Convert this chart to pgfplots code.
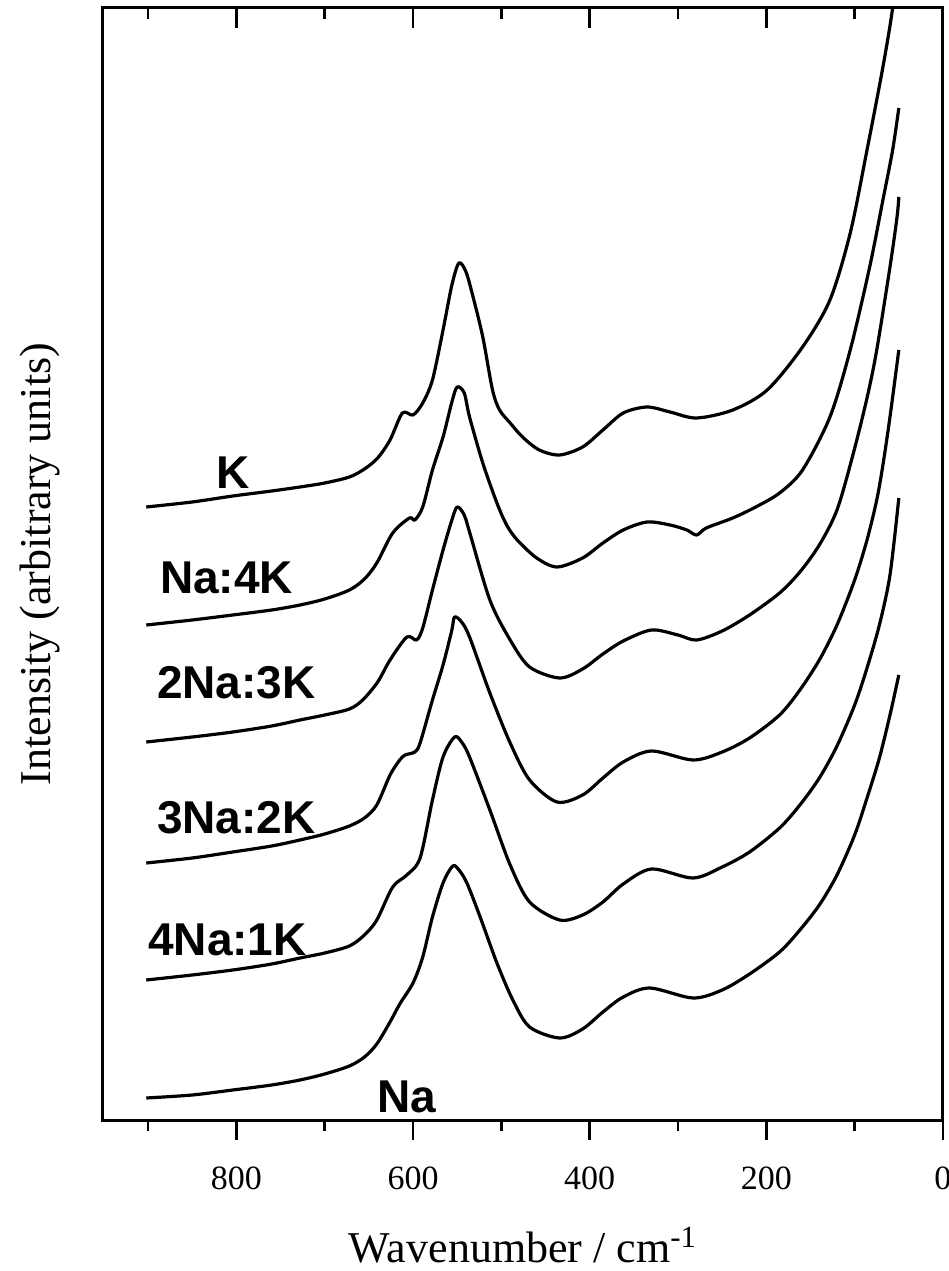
\documentclass[border=0pt]{standalone}
\usepackage{fontspec}
\setmainfont{Liberation Serif}
\newfontfamily\labfont{Liberation Sans}
\usepackage{pgfplots}
\pgfplotsset{compat=1.18}
\tikzset{lab/.style={font=\labfont\bfseries\fontsize{23}{23}\selectfont, inner sep=0pt, anchor=center}}
\begin{document}
\begin{tikzpicture}
\pgfplotsset{
  common/.style={
    width=420pt, height=556pt, scale only axis,
    xmin=0, xmax=951, ymin=0, ymax=1112, x dir=reverse,
    ytick=\empty, xtick={0,200,400,600,800}, minor xtick={100,300,500,700,900},
    major tick length=10pt, minor tick length=5.5pt,
    axis line style={line width=1.5pt},
    every tick/.style={line width=1.3pt, black},
    every minor tick/.style={line width=1.3pt, black},
  },
  spec/.style={black, line width=1.6pt, line join=round, smooth, tension=0.5, mark=none},
}
\begin{axis}[common, name=ax, xtick pos=left, tick align=outside,
  /pgf/number format/assume math mode=true,
  xticklabel style={font=\fontsize{17}{17}\selectfont, anchor=north, yshift=-10pt},
  xlabel={Wavenumber / cm\textsuperscript{-1}},
  xlabel style={font=\fontsize{22}{22}\selectfont, at={(axis description cs:0.5,-0.1124)}, anchor=center},
  ylabel={Intensity (arbitrary units)},
  ylabel style={font=\fontsize{22}{22}\selectfont, at={(axis description cs:-0.075,0.5)}, anchor=center},
]
% K
\addplot[spec] coordinates {(902,613)(850,618)(804,624)(760,629)(728,633)(700,637)(672,643)(655,651)(640,662)(626,680)(612,707)(600,705)(589,717)(578,740)(566,790)(556,835)(548,857)(540,848)(532,823)(521,783)(510,730)(502,710)(490,697)(476,683)(457,670)(434,665)(408,673)(385,690)(362,707)(335,713)(309,708)(279,702)(238,710)(199,730)(159,773)(128,820)(105,887)(86,970)(68,1053)(57,1112)(52,1160)};
% Na:4K
\addplot[spec] coordinates {(902,495)(850,500)(804,505)(760,510)(728,515)(700,521)(672,530)(655,541)(641,557)(623,587)(604,602)(598,600)(589,613)(578,650)(566,683)(556,718)(550,733)(542,727)(536,703)(521,657)(505,617)(494,595)(482,580)(460,562)(437,553)(408,562)(385,577)(362,590)(335,598)(309,595)(290,590)(279,585)(268,592)(238,602)(212,613)(185,627)(159,650)(128,703)(105,770)(83,853)(68,920)(57,970)(50,1012)};
% 2Na:3K
\addplot[spec] coordinates {(902,378)(850,383)(804,388)(760,394)(728,400)(700,405)(672,411)(657,420)(640,438)(626,460)(607,483)(596,480)(589,492)(578,530)(566,570)(556,600)(550,613)(542,605)(536,588)(513,520)(490,480)(468,453)(434,442)(408,451)(385,466)(362,479)(330,490)(300,485)(279,480)(250,489)(219,505)(185,527)(162,548)(140,575)(120,610)(102,665)(86,722)(75,770)(60,853)(52,903)(50,923)};
% 3Na:2K
\addplot[spec] coordinates {(902,257)(850,262)(804,268)(760,274)(728,280)(700,286)(672,294)(655,302)(641,315)(626,345)(615,360)(609,365)(598,368)(592,377)(578,420)(566,455)(556,490)(553,503)(545,498)(536,483)(513,427)(490,377)(468,340)(437,318)(408,325)(385,342)(362,358)(330,369)(283,360)(250,368)(219,382)(185,405)(162,430)(140,460)(120,495)(100,540)(86,580)(75,620)(68,655)(60,703)(50,770)};
% 4Na:1K
\addplot[spec] coordinates {(902,140)(850,145)(804,150)(760,156)(728,162)(700,167)(672,174)(655,185)(641,200)(623,233)(607,245)(592,262)(578,320)(566,363)(553,383)(545,378)(536,363)(513,310)(490,255)(468,218)(434,200)(408,205)(385,218)(362,236)(330,251)(283,242)(250,253)(219,268)(185,292)(162,315)(140,342)(120,374)(100,415)(86,452)(72,495)(60,545)(50,622)};
% Na
\addplot[spec] coordinates {(902,22)(850,25)(804,30)(760,35)(728,40)(700,46)(672,54)(655,63)(641,76)(626,98)(615,116)(600,137)(589,163)(578,203)(566,237)(555,254)(548,250)(539,237)(524,203)(505,157)(487,120)(468,93)(434,82)(408,91)(385,108)(362,123)(332,132)(283,122)(250,130)(219,146)(185,168)(162,190)(140,215)(120,245)(100,285)(86,322)(72,362)(60,405)(50,445)};
\node[lab] at (axis cs:804,647) {K};
\node[lab] at (axis cs:811,542) {Na:4K};
\node[lab] at (axis cs:800,437) {2Na:3K};
\node[lab] at (axis cs:800,302) {3Na:2K};
\node[lab] at (axis cs:810,180) {4Na:1K};
\node[lab] at (axis cs:607,23) {Na};
\end{axis}
\begin{axis}[common, xtick pos=right, tick align=inside, xticklabels={}]
\end{axis}
\pgfresetboundingbox
\path ([xshift=-51.5pt, yshift=-75.5pt]ax.south west) rectangle ([xshift=3pt, yshift=4pt]ax.north east);
\end{tikzpicture}
\end{document}
